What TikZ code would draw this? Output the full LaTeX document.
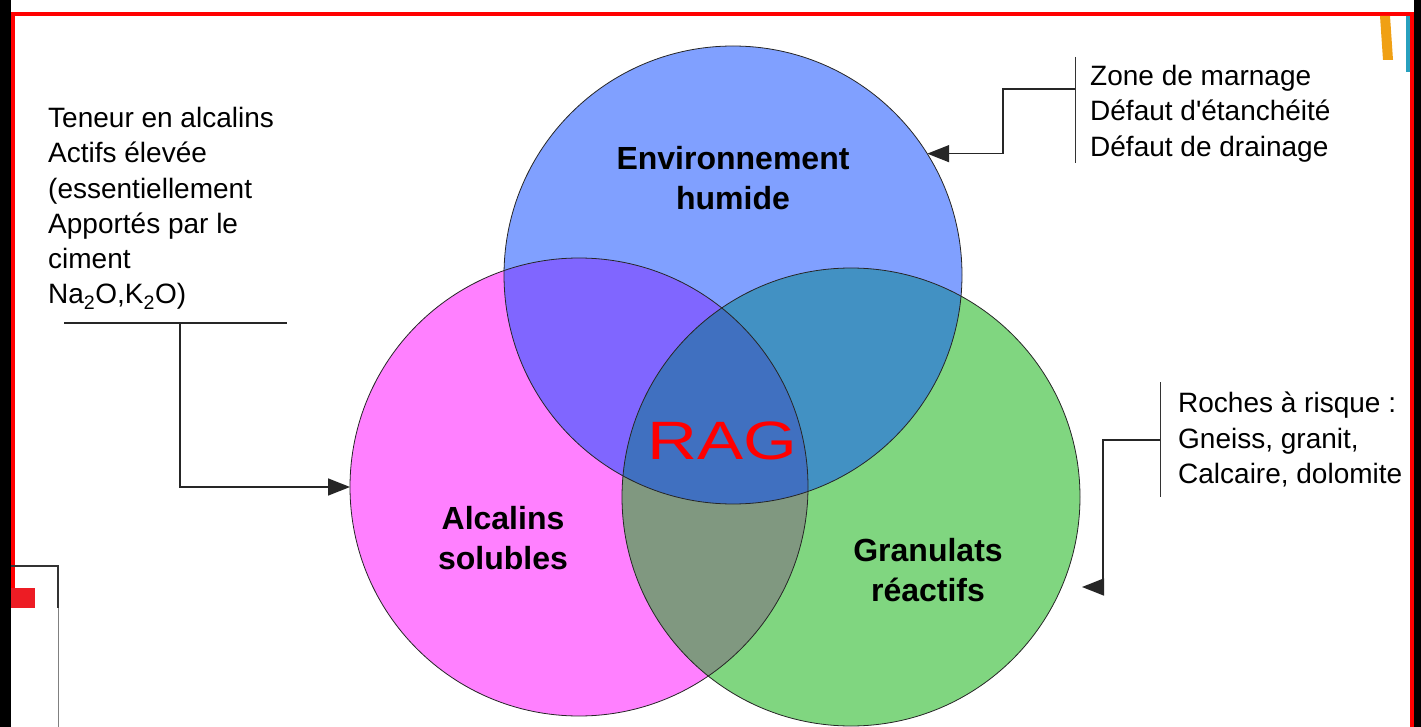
\documentclass[tikz,border=0pt]{standalone}
\usepackage{fontspec}
\setmainfont{Liberation Sans}
\usetikzlibrary{arrows.meta}
\newcommand\straightquote{\XeTeXglyph\XeTeXcharglyph"0027\relax}
\definecolor{cblue}{RGB}{128,160,255}
\definecolor{cpink}{RGB}{255,128,255}
\definecolor{cgreen}{RGB}{128,214,128}
\definecolor{cbp}{RGB}{128,102,255}
\definecolor{cbg}{RGB}{66,145,195}
\definecolor{cpg}{RGB}{128,152,128}
\definecolor{call}{RGB}{64,112,192}
\definecolor{bred}{RGB}{255,0,0}
\definecolor{sqred}{RGB}{237,28,36}
\definecolor{corange}{RGB}{240,160,20}
\definecolor{cteal}{RGB}{40,160,190}
\tikzset{
  circ/.style={circle, draw=black!85, line width=0.8pt, minimum size=458pt, inner sep=0pt, outer sep=0pt},
  lbl/.style={font=\fontsize{32}{40}\selectfont\bfseries, align=center, inner sep=0pt, anchor=north},
  note/.style={font=\fontsize{28}{35.3}\selectfont, align=left, inner sep=0pt, anchor=north west},
  conn/.style={draw=black!85, line width=1.5pt},
  bar/.style={draw=black!80, line width=1pt},
  tip/.style={-{Triangle[length=22pt,width=17pt]}}
}
\begin{document}
\begin{tikzpicture}[x=1pt,y=-1pt]
\useasboundingbox (0,0) rectangle (1421,727);
\fill[white] (0,0) rectangle (1421,727);
% frame decorations
\fill[black] (0,0) rectangle (11,727);
\fill[black] (1414,0) rectangle (1421,727);
\fill[bred] (11,12) rectangle (1414,16);
\fill[bred] (11,12) rectangle (14.5,608);
\fill[bred] (1410,12) rectangle (1414,727);
\fill[corange] (1380,16) -- (1390,16) -- (1393,60) -- (1383,60) -- cycle;
\fill[cteal] (1406,16) rectangle (1410,72);
\fill[sqred] (11,588) rectangle (35,608);
\draw[black!80, line width=2pt] (11,566) -- (57.5,566) -- (57.5,608);
\draw[black!50, line width=0.8pt] (58,608) -- (58,727);
% circle fills
\fill[cpink] (579,487) circle (229);
\fill[cgreen] (851,497) circle (229);
\fill[cblue] (733,275) circle (229);
\begin{scope}
  \clip (733,275) circle (229);
  \fill[cbp] (579,487) circle (229);
  \fill[cbg] (851,497) circle (229);
\end{scope}
\begin{scope}
  \clip (579,487) circle (229);
  \fill[cpg] (851,497) circle (229);
  \clip (851,497) circle (229);
  \fill[call] (733,275) circle (229);
\end{scope}
% circle outlines
\node[circ] (alc) at (579,487) {};
\node[circ] (gra) at (851,497) {};
\node[circ] (env) at (733,275) {};
% labels
\node[lbl] (envl) at (733,146) {Environnement\\humide};
\node[lbl] (alcl) at (503,506) {Alcalins\\solubles};
\node[lbl] (gral) at (928,538) {Granulats\\réactifs};
\node[font=\fontsize{54}{54}\selectfont, text=bred, xscale=1.28, inner sep=0pt] (rag) at (722,441) {RAG};
% notes
\node[note] (nl) at (48,107) {Teneur en alcalins\\Actifs élevée\\(essentiellement\\Apportés par le\\ciment\\Na\textsubscript{2}O,K\textsubscript{2}O)};
\node[note] (ntr) at (1090,65) {Zone de marnage\\Défaut d\straightquote étanchéité\\Défaut de drainage};
\node[note] (nbr) at (1178,392) {Roches à risque :\\Gneiss, granit,\\Calcaire, dolomite};
% left connector
\coordinate (ul1) at (64,323);
\coordinate (ul2) at (287,323);
\coordinate (lc) at (180,323);
\draw[conn] (ul1) -- (ul2);
\draw[conn, tip] (lc) |- (alc.west);
% top right connector
\coordinate (tb1) at (1075,57);
\coordinate (tb2) at (1075,163);
\coordinate (tr1) at (1075,89);
\coordinate (tr2) at (1003,89);
\draw[bar] (tb1) -- (tb2);
\draw[conn, tip] (tr1) -- (tr2) |- (env.32.5);
% bottom right connector
\coordinate (bb1) at (1160,382);
\coordinate (bb2) at (1160,497);
\coordinate (br1) at (1160,440);
\coordinate (br2) at (1103,440);
\coordinate (br3) at (1082,587);
\draw[bar] (bb1) -- (bb2);
\draw[conn, tip] (br1) -- (br2) |- (br3);
\end{tikzpicture}
\end{document}
